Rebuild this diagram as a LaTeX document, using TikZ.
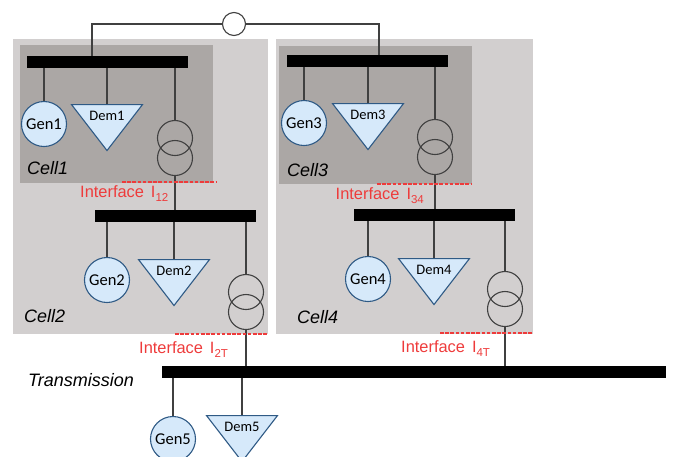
\documentclass[tikz,border=0pt]{standalone}
\usepackage{fontspec}
\setmainfont{Liberation Sans}
\newfontfamily\gennamefont{Carlito}
\usepackage{xcolor}
\usetikzlibrary{positioning,shapes.geometric}
\definecolor{outercell}{HTML}{D2CFCF}
\definecolor{innercell}{HTML}{ABA7A5}
\definecolor{unitfill}{HTML}{D6E9FA}
\definecolor{unitedge}{HTML}{2F5A85}
\definecolor{wire}{HTML}{404040}
\definecolor{ifacered}{HTML}{EE3B3B}
\newcommand{\ifsub}[1]{\raisebox{-0.5ex}{\fontsize{11.5}{12}\selectfont #1}}

\begin{document}
\begin{tikzpicture}[
    x=1pt, y=-1pt,
    outerbox/.style={fill=outercell, inner sep=0pt, anchor=north west, minimum width=255pt, minimum height=295pt},
    innerbox/.style={fill=innercell, inner sep=0pt, anchor=north west, minimum width=193pt, minimum height=138pt},
    bus/.style={fill=black, inner sep=0pt, anchor=north west, minimum width=161pt, minimum height=11.5pt},
    gen/.style={circle, draw=unitedge, fill=unitfill, line width=1.1pt, inner sep=0pt, minimum size=45pt, font=\gennamefont\fontsize{16.5}{18}\selectfont},
    dem/.style={isosceles triangle, isosceles triangle stretches, shape border rotate=-90, draw=unitedge, fill=unitfill, line width=1.1pt, inner sep=0pt, minimum width=71pt, minimum height=46pt, anchor=lower side},
    demname/.style={inner sep=0pt, font=\gennamefont\fontsize{14.5}{16}\selectfont},
    winding/.style={circle, draw=wire, line width=1.1pt, inner sep=0pt, minimum size=35pt},
    wireline/.style={draw=wire, line width=1.2pt},
    iface/.style={draw=ifacered, line width=1.4pt, dash pattern=on 3.6pt off 1.6pt},
    ifacename/.style={text=ifacered, inner sep=0pt, anchor=west, font=\fontsize{16.4}{18}\selectfont},
    cellname/.style={inner sep=0pt, anchor=west, font=\itshape\fontsize{18}{20}\selectfont}
]
\path[use as bounding box, clip] (0,0) rectangle (673,456);

\node[outerbox] (cell2) at (13,39) {};
\node[outerbox, minimum width=257pt] (cell4) at (276,39) {};
\node[innerbox] (cell1) at (20,45) {};
\node[innerbox] (cell3) at (279,46) {};

\node[bus] (bus1) at (27,56) {};
\node[bus] (bus2) at (95,210) {};
\node[bus] (bus3) at (287,55) {};
\node[bus] (bus4) at (354,209) {};
\node[bus, minimum width=504pt] (busT) at (162,366) {};

\node[circle, draw=wire, line width=1.1pt, inner sep=0pt, minimum size=23pt] (link) at (234,24) {};
\coordinate (linkL) at (92,24);
\coordinate (linkR) at (379,24);
\draw[wireline] (link) -- (linkL) -- (linkL |- bus1.north);
\draw[wireline] (link) -- (linkR) -- (linkR |- bus3.north);

\node[gen] (gen1) at (44,124) {Gen1};
\node[gen] (gen2) at (107,280) {Gen2};
\node[gen] (gen3) at (304,123) {Gen3};
\node[gen] (gen4) at (368,279) {Gen4};
\node[gen] (gen5) at (173,439) {Gen5};

\node[dem] (dem1) at (107,104) {};
\node[dem] (dem2) at (174,259) {};
\node[dem] (dem3) at (368,103) {};
\node[dem] (dem4) at (434,258) {};
\node[dem] (dem5) at (242,415) {};
\node[demname, below=6.5pt of dem1.lower side] (dem1name) {Dem1};
\node[demname, below=6.5pt of dem2.lower side] (dem2name) {Dem2};
\node[demname, below=6.5pt of dem3.lower side] (dem3name) {Dem3};
\node[demname, below=6.5pt of dem4.lower side] (dem4name) {Dem4};
\node[demname, below=6.5pt of dem5.lower side] (dem5name) {Dem5};

\node[winding] (tr1a) at (175,138) {};
\node[winding] (tr1b) at (175,158) {};
\node[winding] (tr2a) at (246,292) {};
\node[winding] (tr2b) at (246,312) {};
\node[winding] (tr3a) at (435,137) {};
\node[winding] (tr3b) at (435,157) {};
\node[winding] (tr4a) at (505,289) {};
\node[winding] (tr4b) at (505,309) {};

\draw[wireline] (gen1) -- (gen1 |- bus1.south);
\draw[wireline] (gen2) -- (gen2 |- bus2.south);
\draw[wireline] (gen3) -- (gen3 |- bus3.south);
\draw[wireline] (gen4) -- (gen4 |- bus4.south);
\draw[wireline] (gen5) -- (gen5 |- busT.south);
\draw[wireline] (dem1.lower side) -- (dem1.lower side |- bus1.south);
\draw[wireline] (dem2.lower side) -- (dem2.lower side |- bus2.south);
\draw[wireline] (dem3.lower side) -- (dem3.lower side |- bus3.south);
\draw[wireline] (dem4.lower side) -- (dem4.lower side |- bus4.south);
\draw[wireline] (dem5.lower side) -- (dem5.lower side |- busT.south);
\draw[wireline] (tr1a) -- (tr1a |- bus1.south);
\draw[wireline] (tr1b) -- (tr1b |- bus2.north);
\draw[wireline] (tr2a) -- (tr2a |- bus2.south);
\draw[wireline] (tr2b) -- (tr2b |- busT.north);
\draw[wireline] (tr3a) -- (tr3a |- bus3.south);
\draw[wireline] (tr3b) -- (tr3b |- bus4.north);
\draw[wireline] (tr4a) -- (tr4a |- bus4.south);
\draw[wireline] (tr4b) -- (tr4b |- busT.north);

\coordinate (if12L) at (122,182);
\coordinate (if12R) at (216,182);
\coordinate (if34L) at (377,184);
\coordinate (if34R) at (471,184);
\coordinate (if2TL) at (175,334);
\coordinate (if2TR) at (268,334);
\coordinate (if4TL) at (440,333);
\coordinate (if4TR) at (533,333);
\draw[iface] (if12L) -- (if12R);
\draw[iface] (if34L) -- (if34R);
\draw[iface] (if2TL) -- (if2TR);
\draw[iface] (if4TL) -- (if4TR);

\node[ifacename] (if12name) at (80,193.5) {Interface\hspace{7pt}I\ifsub{12}};
\node[ifacename] (if34name) at (335.5,195.5) {Interface\hspace{7pt}I\ifsub{34}};
\node[ifacename] (if2Tname) at (139,349.5) {Interface\hspace{7pt}I\ifsub{2T}};
\node[ifacename] (if4Tname) at (401,348.5) {Interface\hspace{7pt}I\ifsub{4T}};

\node[cellname] (cell1name) at (27,168.5) {Cell1};
\node[cellname] (cell2name) at (24,316) {Cell2};
\node[cellname] (cell3name) at (287,170) {Cell3};
\node[cellname] (cell4name) at (297,317) {Cell4};
\node[cellname] (transname) at (28,380) {Transmission};
\end{tikzpicture}
\end{document}
